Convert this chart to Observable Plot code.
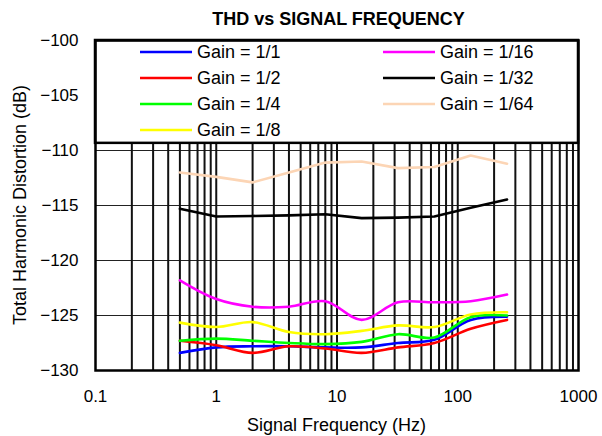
<!DOCTYPE html>
<html>
<head>
<meta charset="utf-8">
<script src="https://cdn.jsdelivr.net/npm/d3@7"></script>
<script src="https://cdn.jsdelivr.net/npm/@observablehq/plot@0.6"></script>
<style>
  body { margin: 0; background: #fff; }
  svg { font-family: "Liberation Sans", Arial, sans-serif; }
</style>
</head>
<body>
<div id="chart"></div>
<script>
// ---- data ----
const freqs = [0.5, 1, 2, 4, 8, 16, 32, 64, 128, 256];
const gain1_1  = [-128.4, -127.9, -127.8, -127.8, -127.9, -127.9, -127.5, -127.2, -125.4, -125.1];
const gain1_2  = [-127.3, -127.7, -128.4, -127.8, -128.0, -128.4, -127.9, -127.5, -126.2, -125.4];
const gain1_4  = [-127.3, -127.1, -127.3, -127.5, -127.6, -127.4, -126.7, -127.0, -125.15, -125.0];
const gain1_8  = [-125.65, -126.05, -125.6, -126.5, -126.7, -126.4, -125.9, -126.05, -124.9, -124.7];
const gain1_16 = [-121.8, -123.5, -124.2, -124.2, -123.7, -125.4, -123.8, -123.8, -123.7, -123.1];
const gain1_32 = [-115.3, -116.0, -115.95, -115.9, -115.8, -116.15, -116.1, -116.0, -115.2, -114.45];
const gain1_64 = [-112.0, -112.4, -112.9, -112.0, -111.1, -111.0, -111.6, -111.5, -110.45, -111.2];

const seriesNames = ["Gain = 1/1", "Gain = 1/2", "Gain = 1/4", "Gain = 1/8", "Gain = 1/16", "Gain = 1/32", "Gain = 1/64"];
const seriesValues = [gain1_1, gain1_2, gain1_4, gain1_8, gain1_16, gain1_32, gain1_64];
const seriesColors = ["#0000ff", "#ff0000", "#00ff00", "#ffff00", "#ff00ff", "#000000", "#fcd5b5"];
const seriesCurves = ["catmull-rom", "catmull-rom", "catmull-rom", "catmull-rom", "catmull-rom", "linear", "linear"];

const xTicks = [0.1, 1, 10, 100, 1000];
const yTicks = [-130, -125, -120, -115, -110, -105, -100];
const gridX = d3.range(-1, 3).flatMap(e => d3.range(1, 10).map(m => m * Math.pow(10, e))).filter(v => v > 0.1);
const gridY = [-125, -120, -115, -110];
const legendBottom = -109.35;

const W = 602, H = 436;

const lineMarks = seriesNames.map((name, i) =>
  Plot.line(freqs.map((f, j) => ({f, v: seriesValues[i][j]})), {
    x: "f", y: "v", stroke: seriesColors[i], strokeWidth: 2.6, curve: seriesCurves[i]
  })
);

const plot = Plot.plot({
  width: W, height: H,
  marginLeft: 95, marginRight: 24, marginTop: 40, marginBottom: 66,
  style: { fontFamily: "'Liberation Sans', Arial, sans-serif", fontSize: "17px", color: "#000", background: "#fff" },
  x: { type: "log", domain: [0.1, 1000], ticks: xTicks, tickFormat: d => String(d), label: null, tickSize: 0, tickPadding: 19 },
  y: { domain: [-130, -100], ticks: yTicks, label: null, tickSize: 0, tickPadding: 17 },
  marks: [
    Plot.ruleY(gridY, { stroke: "#222", strokeWidth: 1.2 }),
    Plot.ruleX(gridX, { stroke: "#111", strokeWidth: 2 }),
    ...lineMarks,
    Plot.rect([{}], { x1: () => 0.1, x2: () => 1000, y1: () => legendBottom, y2: () => -100, fill: "white", stroke: "black", strokeWidth: 2.5 }),
    Plot.frame({ stroke: "black", strokeWidth: 2.5 })
  ]
});

const svg = d3.select(plot);
const xs = plot.scale("x"), ys = plot.scale("y");
const cx = (xs.apply(0.1) + xs.apply(1000)) / 2;

// title
svg.append("text").attr("x", cx + 2).attr("y", 25).attr("text-anchor", "middle")
  .attr("font-size", 18).attr("font-weight", "bold").attr("fill", "#000").text("THD vs SIGNAL FREQUENCY");
// x label
svg.append("text").attr("x", cx).attr("y", 431).attr("text-anchor", "middle")
  .attr("font-size", 18).attr("fill", "#000").text("Signal Frequency (Hz)");
// y label
const cy = (ys.apply(-130) + ys.apply(-100)) / 2;
svg.append("text").attr("transform", `translate(26,${cy}) rotate(-90)`).attr("text-anchor", "middle")
  .attr("font-size", 18).attr("fill", "#000").text("Total Harmonic Distortion (dB)");

// legend entries
const legendCols = [140, 383];
const legendRows = [52, 78, 104, 130];
seriesNames.forEach((name, i) => {
  const col = i < 4 ? 0 : 1;
  const row = i < 4 ? i : i - 4;
  const x0 = legendCols[col], y0 = legendRows[row];
  svg.append("line").attr("x1", x0).attr("x2", x0 + 52).attr("y1", y0).attr("y2", y0)
    .attr("stroke", seriesColors[i]).attr("stroke-width", 2.6);
  svg.append("text").attr("x", x0 + 57).attr("y", y0).attr("dy", "0.36em").attr("text-anchor", "start")
    .attr("font-size", 18).attr("fill", "#000").text(name);
});

document.getElementById("chart").appendChild(plot);
</script>
</body>
</html>
